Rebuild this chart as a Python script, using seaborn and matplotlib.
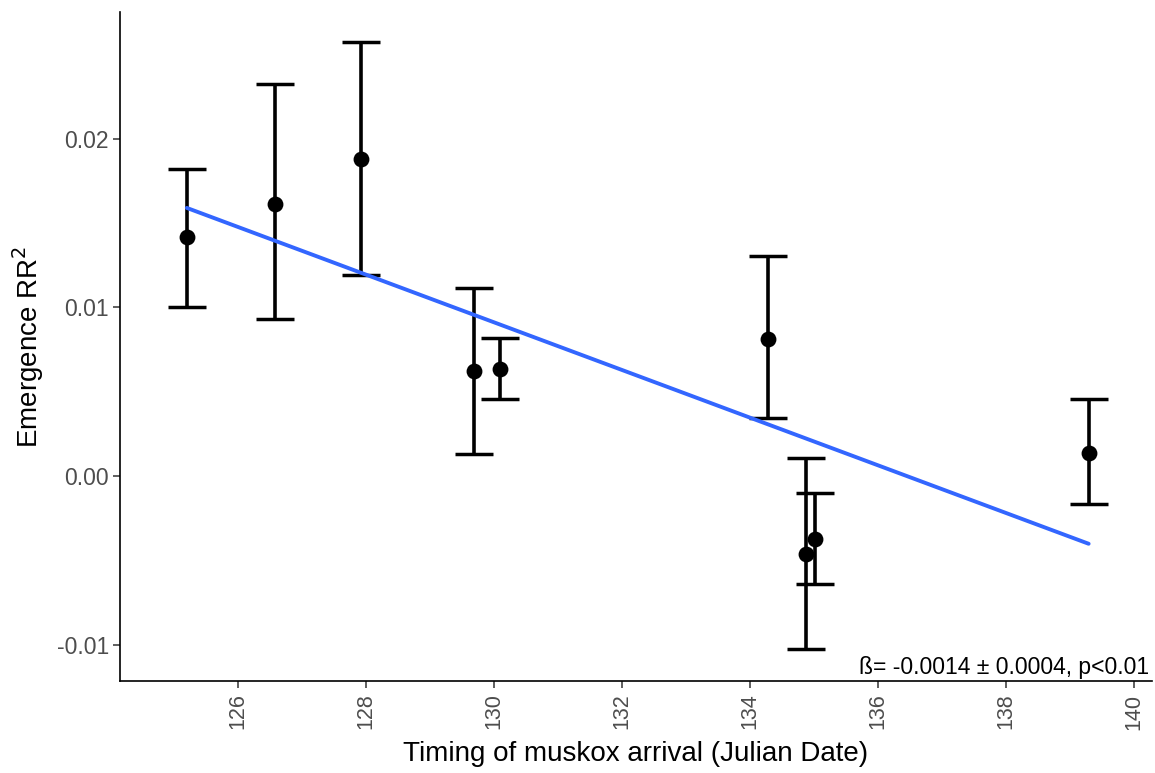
import numpy as np
import pandas as pd
import matplotlib
matplotlib.use("Agg")
import matplotlib.pyplot as plt
import seaborn as sns

# Mean emergence RR^2 per site against muskox arrival date, with error limits
arrival = [125.20, 126.58, 127.92, 129.68, 130.09, 134.28, 134.87, 135.02, 139.29]
rr2 = [0.01418, 0.01616, 0.01880, 0.00623, 0.00633, 0.00814, -0.00464, -0.00374, 0.00136]
rr2_low = [0.01002, 0.00931, 0.01190, 0.00129, 0.00455, 0.00342, -0.01026, -0.00641, -0.00168]
rr2_high = [0.01823, 0.02325, 0.02572, 0.01113, 0.00817, 0.01305, 0.00105, -0.00103, 0.00455]

# Fitted trend (model prediction) end points
fit_x = [125.20, 139.29]
fit_y = [0.01590, -0.00402]

x_ticks = [126, 128, 130, 132, 134, 136, 138, 140]
y_ticks = [-0.01, 0.00, 0.01, 0.02]
y_tick_labels = ["-0.01", "0.00", "0.01", "0.02"]

df = pd.DataFrame({"arrival": arrival, "rr2": rr2, "low": rr2_low, "high": rr2_high})
fit = pd.DataFrame({"arrival": fit_x, "rr2": fit_y})

sns.set_theme(style="white")
plt.rcParams["font.family"] = ["Liberation Sans", "DejaVu Sans"]

fig = plt.figure(figsize=(11.55, 7.73), dpi=100)
ax = fig.add_axes([120 / 1155, 1 - 681 / 773, 1032 / 1155, 669 / 773])

# error bars
yerr = np.vstack([df["rr2"] - df["low"], df["high"] - df["rr2"]])
ax.errorbar(df["arrival"], df["rr2"], yerr=yerr, fmt="none", ecolor="black",
            elinewidth=2.6, capsize=13.7, capthick=2.5, zorder=2)

# fitted line
sns.lineplot(data=fit, x="arrival", y="rr2", color="#3366FF", linewidth=2.8, ax=ax, zorder=3)

# points
sns.scatterplot(data=df, x="arrival", y="rr2", color="black", s=130, edgecolor="black",
                linewidth=0, ax=ax, zorder=4)

ax.set_xlim(124.156, 140.28)
ax.set_ylim(-0.01216, 0.02752)
ax.set_xticks(x_ticks)
ax.set_xticklabels([str(t) for t in x_ticks], rotation=90)
ax.set_yticks(y_ticks)
ax.set_yticklabels(y_tick_labels)

ax.tick_params(axis="both", which="major", length=5, width=1.1, color="#333333",
               labelcolor="#4D4D4D", direction="out", bottom=True, left=True)
ax.tick_params(axis="y", labelsize=16.5, pad=3)
ax.tick_params(axis="x", labelsize=15.5, pad=4)

for side in ["top", "right"]:
    ax.spines[side].set_visible(False)
for side in ["left", "bottom"]:
    ax.spines[side].set_color("black")
    ax.spines[side].set_linewidth(1.2)

ax.set_xlabel("Timing of muskox arrival (Julian Date)", fontsize=20, color="black", labelpad=8)
ax.set_ylabel("Emergence RR$^2$", fontsize=20, color="black", labelpad=8)

ax.text(0.9975, 0.003, "ß= -0.0014 ± 0.0004, p<0.01", transform=ax.transAxes,
        ha="right", va="bottom", fontsize=16.5, color="black")

fig.savefig("out.png", dpi=100)
